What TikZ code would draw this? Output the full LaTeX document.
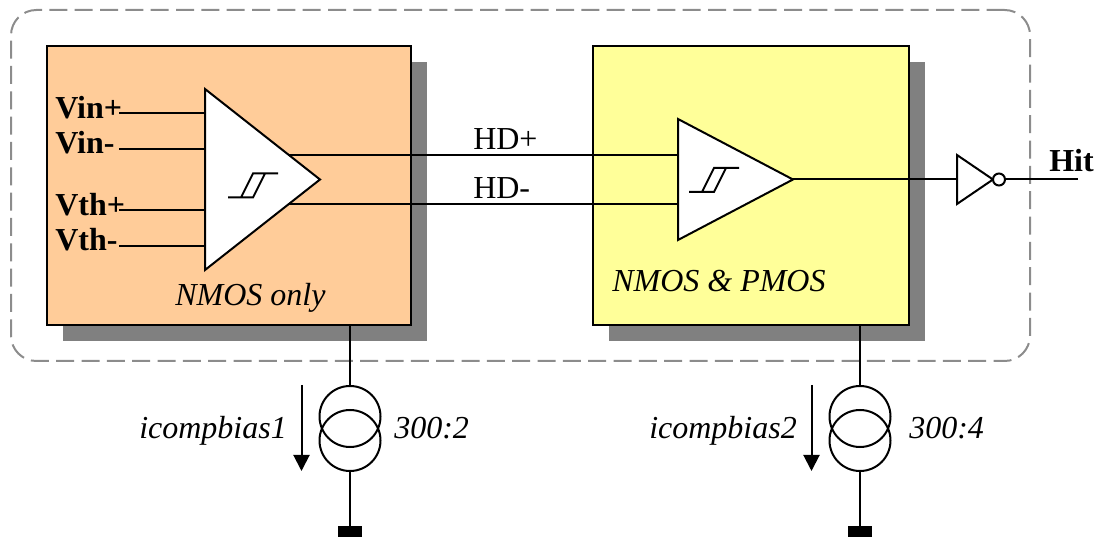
\documentclass[tikz,border=0pt]{standalone}
\usepackage{fontspec}
\setmainfont{Liberation Serif}
\usetikzlibrary{arrows.meta, positioning}

\begin{document}
\begin{tikzpicture}[
  x=0.75pt, y=-0.75pt,
  wire/.style={line width=1.5pt},
  block/.style={draw, line width=1.5pt, minimum height=209.25pt, inner sep=0pt, outer sep=0pt, anchor=north west},
  shade/.style={fill=black!50, minimum height=209.25pt, inner sep=0pt, outer sep=0pt, anchor=north west},
  lbl/.style={font=\fontsize{24}{24}\selectfont, inner sep=0pt, anchor=base west},
  pin/.style={lbl, font=\fontsize{24}{24}\selectfont\bfseries},
  note/.style={lbl, font=\fontsize{24}{24}\selectfont\itshape}]

  \useasboundingbox (0,0) rectangle (1101,538);

  % Dashed outline
  \node[draw=black!45, line width=1.5pt, dash pattern=on 13.5pt off 5.5pt, rounded corners=19pt,
        minimum width=764.25pt, minimum height=263.25pt, inner sep=0pt, outer sep=0pt, anchor=north west] (frame) at (11,10) {};

  % Shadows and blocks
  \node[shade, minimum width=273pt] (shadeA) at (63,62) {};
  \node[shade, minimum width=237pt] (shadeB) at (609,62) {};
  \node[block, fill={rgb,255:red,255;green,204;blue,153}, minimum width=273pt] (blockA) at (47,46) {};
  \node[block, fill={rgb,255:red,255;green,255;blue,153}, minimum width=237pt] (blockB) at (593,46) {};

  % Pin labels
  \node[pin] (vinp) at (55,118.5) {Vin+};
  \node[pin] (vinm) at (55,154) {Vin-};
  \node[pin] (vthp) at (55,215.5) {Vth+};
  \node[pin] (vthm) at (55,251) {Vth-};

  % Wire end points
  \coordinate (vinpS) at (119,113);  \coordinate (vinpE) at (205,113);
  \coordinate (vinmS) at (119,149);  \coordinate (vinmE) at (205,149);
  \coordinate (vthpS) at (119,210);  \coordinate (vthpE) at (205,210);
  \coordinate (vthmS) at (119,246);  \coordinate (vthmE) at (205,246);
  \coordinate (hdpS) at (289,155);   \coordinate (hdpE) at (678,155);
  \coordinate (hdmS) at (289,204);   \coordinate (hdmE) at (678,204);
  \coordinate (cmpOut) at (793,179.5);
  \coordinate (invIn) at (957,179.5);
  \coordinate (hitEnd) at (1078,179.5);

  \draw[wire] (vinpS) -- (vinpE);
  \draw[wire] (vinmS) -- (vinmE);
  \draw[wire] (vthpS) -- (vthpE);
  \draw[wire] (vthmS) -- (vthmE);
  \draw[wire] (hdpS) -- (hdpE);
  \draw[wire] (hdmS) -- (hdmE);
  \draw[wire] (cmpOut) -- (invIn);

  % Comparators
  \draw[wire, fill=white] (205,89) -- (320,179.5) -- (205,270) -- cycle;
  \draw[wire, fill=white] (678,119) -- (793,179.5) -- (678,240) -- cycle;

  % Hysteresis symbols
  \draw[wire] (228,197.5) -- (253,197.5) -- (265,173.5) -- (278,173.5) (241,197.5) -- (253,173.5) -- (265,173.5);
  \draw[wire] (689,192) -- (714,192) -- (726,168) -- (739,168) (702,192) -- (714,168) -- (726,168);

  % Inverter
  \draw[wire, fill=white] (957,155) -- (993,179.5) -- (957,204) -- cycle;
  \node[draw, circle, fill=white, line width=1.5pt, minimum size=9pt, inner sep=0pt] (bubble) at (999,179.5) {};
  \draw[wire] (bubble) -- (hitEnd);
  \node[pin] (hit) at (1049,172) {Hit};

  % Signal and block labels
  \node[lbl] (hdp) at (473,150) {HD+};
  \node[lbl] (hdm) at (473,199) {HD-};
  \node[note] (nmosonly) at (175,306) {NMOS only};
  \node[note] (nmospmos) at (612,292) {NMOS \& PMOS};

  % Current sources
  \foreach \cx/\ax/\nm/\tx/\rx/\rt/\lx in {350/301.5/A/icompbias1/394/300:2/139, 860/811.5/B/icompbias2/909/300:4/649} {
    \coordinate (stem\nm) at (\cx,325);
    \node[fill=black, minimum width=18pt, minimum height=8.25pt, inner sep=0pt, outer sep=0pt, anchor=north] (gnd\nm) at (\cx,526) {};
    \node[draw, circle, line width=1.5pt, minimum size=45.75pt, inner sep=0pt, outer sep=0pt] (srcT\nm) at (\cx,416.5) {};
    \node[draw, circle, line width=1.5pt, minimum size=45.75pt, inner sep=0pt, outer sep=0pt] (srcB\nm) at (\cx,440.5) {};
    \draw[wire] (stem\nm) -- (srcT\nm.north);
    \draw[wire] (srcB\nm.south) -- (gnd\nm.north);
    \coordinate (arrS\nm) at (\ax,385);
    \coordinate (arrE\nm) at (\ax,471);
    \draw[wire, -{Triangle[length=12pt, width=12pt]}] (arrS\nm) -- (arrE\nm);
    \node[note] (bias\nm) at (\lx,439) {\tx};
    \node[note] (ratio\nm) at (\rx,439) {\rt};
  }

\end{tikzpicture}
\end{document}
